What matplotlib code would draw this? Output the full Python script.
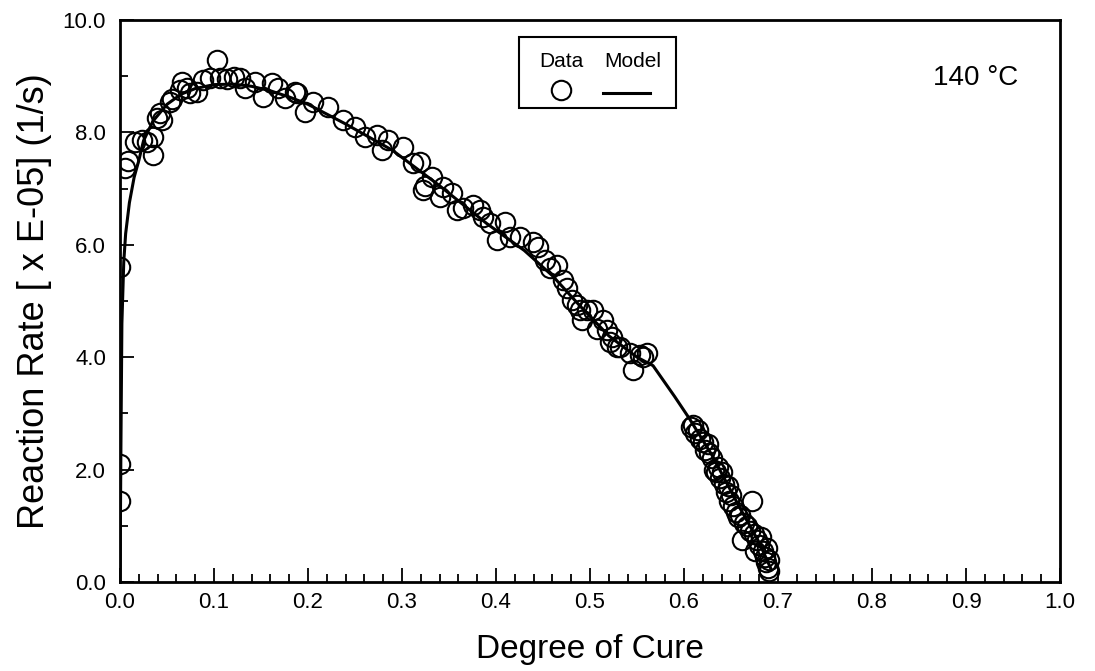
"""
Reaction rate vs degree of cure at 140 C: measured data (open circles)
and model curve (solid line).

Output: out.png
"""

import matplotlib
matplotlib.use("Agg")
import matplotlib.pyplot as plt
from matplotlib.patches import Rectangle
from matplotlib.ticker import MultipleLocator, FormatStrFormatter

plt.rcParams["font.family"] = ["Liberation Sans", "DejaVu Sans"]

OUT_FIG = "out.png"

# --- Data ---
# degree of cure (alpha) for the measured points
data_alpha = [
    0.0, 0.0, 0.0, 0.005, 0.009, 0.016, 0.023, 0.029, 0.035, 0.035,
    0.039, 0.043, 0.045, 0.053, 0.055, 0.064, 0.066, 0.071, 0.074, 0.082,
    0.088, 0.096, 0.103, 0.106, 0.114, 0.121, 0.128, 0.133, 0.144, 0.152,
    0.162, 0.168, 0.176, 0.186, 0.188, 0.197, 0.205, 0.221, 0.237, 0.25,
    0.261, 0.273, 0.279, 0.285, 0.301, 0.312, 0.319, 0.322, 0.324, 0.332,
    0.34, 0.344, 0.353, 0.358, 0.365, 0.376, 0.383, 0.386, 0.394, 0.401,
    0.41, 0.415, 0.426, 0.439, 0.445, 0.452, 0.457, 0.465, 0.471, 0.476,
    0.481, 0.486, 0.489, 0.491, 0.497, 0.503, 0.507, 0.514, 0.518, 0.521,
    0.523, 0.529, 0.532, 0.543, 0.546, 0.553, 0.556, 0.561,
    0.607, 0.610, 0.612, 0.615, 0.617, 0.620, 0.622, 0.625, 0.627, 0.630,
    0.632, 0.634, 0.636, 0.638, 0.640, 0.642, 0.645, 0.647, 0.648, 0.650,
    0.652, 0.655, 0.657, 0.660, 0.662, 0.664, 0.667, 0.670, 0.672, 0.674,
    0.676, 0.678, 0.680, 0.682, 0.684, 0.686, 0.687, 0.688, 0.689, 0.690,
    0.690,
]
# reaction rate [x 1e-5 1/s] for the measured points
data_rate = [
    5.6, 2.1, 1.45, 7.37, 7.5, 7.83, 7.86, 7.83, 7.6, 7.92,
    8.26, 8.34, 8.22, 8.54, 8.6, 8.75, 8.9, 8.79, 8.7, 8.72,
    8.93, 8.97, 9.28, 8.97, 8.95, 8.99, 8.97, 8.79, 8.9, 8.63,
    8.88, 8.79, 8.61, 8.72, 8.7, 8.36, 8.54, 8.45, 8.22, 8.1,
    7.92, 7.95, 7.69, 7.87, 7.74, 7.45, 7.47, 6.97, 7.05, 7.21,
    6.85, 7.03, 6.92, 6.62, 6.65, 6.71, 6.62, 6.5, 6.39, 6.09,
    6.41, 6.14, 6.14, 6.05, 5.96, 5.73, 5.59, 5.64, 5.37, 5.23,
    5.02, 4.93, 4.84, 4.66, 4.84, 4.84, 4.5, 4.66, 4.48, 4.27,
    4.36, 4.18, 4.18, 4.07, 3.77, 4.04, 4.0, 4.07,
    2.75, 2.8, 2.65, 2.7, 2.55, 2.5, 2.35, 2.45, 2.3, 2.2,
    2.0, 1.95, 2.05, 1.85, 1.95, 1.75, 1.6, 1.7, 1.45, 1.55,
    1.35, 1.25, 1.15, 1.2, 0.75, 1.05, 1.0, 0.9, 1.45, 0.85,
    0.55, 0.75, 0.65, 0.8, 0.55, 0.45, 0.35, 0.6, 0.25, 0.4,
    0.2,
]

# model curve
model_alpha = [
    0.0, 0.001, 0.002, 0.004, 0.006, 0.01, 0.015, 0.02, 0.025, 0.035,
    0.05, 0.065, 0.08, 0.1, 0.12, 0.14, 0.16, 0.18, 0.2, 0.24,
    0.29, 0.34, 0.39, 0.43, 0.46, 0.49, 0.52, 0.55, 0.567, 0.59,
    0.606, 0.63, 0.66, 0.68, 0.692,
]
model_rate = [
    0.0, 2.5, 4.6, 5.7, 6.2, 6.75, 7.2, 7.5, 7.85, 8.2,
    8.5, 8.68, 8.78, 8.85, 8.86, 8.82, 8.74, 8.63, 8.5, 8.15,
    7.68, 7.05, 6.38, 5.9, 5.45, 4.9, 4.38, 4.0, 3.85, 3.3,
    2.9, 2.25, 1.3, 0.7, 0.25,
]

legend_labels = ["Data", "Model"]
temp_label = "140 \u00b0C"

# --- Figure ---
fig = plt.figure(figsize=(10.95, 6.71), dpi=100)
ax = fig.add_axes([0.1096, 0.1326, 0.8585, 0.8376])

ax.plot(model_alpha, model_rate, color="black", lw=2.2, zorder=2)
ax.plot(data_alpha, data_rate, ls="none", marker="o", ms=14, mfc="none",
        mec="black", mew=1.5, zorder=3)

ax.set_xlim(0, 1.0)
ax.set_ylim(0, 10.0)
ax.xaxis.set_major_locator(MultipleLocator(0.1))
ax.xaxis.set_minor_locator(MultipleLocator(0.02))
ax.yaxis.set_major_locator(MultipleLocator(2.0))
ax.yaxis.set_minor_locator(MultipleLocator(1.0))
ax.xaxis.set_major_formatter(FormatStrFormatter("%.1f"))
ax.yaxis.set_major_formatter(FormatStrFormatter("%.1f"))
ax.tick_params(which="both", direction="in", width=1.3, labelsize=16)
ax.tick_params(which="major", length=10)
ax.tick_params(which="minor", length=6)
ax.tick_params(axis="x", pad=7)
ax.tick_params(axis="y", pad=10)
for sp in ax.spines.values():
    sp.set_linewidth(2)

ax.set_xlabel("Degree of Cure", fontsize=24, labelpad=15)
ax.set_ylabel("Reaction Rate [ x E-05] (1/s)", fontsize=26, labelpad=8)

# hand-made legend box (labels above the symbols, like the original)
ax.add_patch(Rectangle((0.424, 0.843), 0.167, 0.127, transform=ax.transAxes,
                       fill=False, lw=1.5, ec="black", zorder=4))
ax.text(0.469, 0.926, legend_labels[0], transform=ax.transAxes,
        ha="center", va="center", fontsize=15)
ax.text(0.545, 0.926, legend_labels[1], transform=ax.transAxes,
        ha="center", va="center", fontsize=15)
ax.plot([0.469], [0.875], transform=ax.transAxes, marker="o", ms=14,
        mfc="none", mec="black", mew=1.5, clip_on=False)
ax.plot([0.514, 0.564], [0.870, 0.870], transform=ax.transAxes,
        color="black", lw=2.2, clip_on=False)

ax.text(0.91, 0.897, temp_label, transform=ax.transAxes,
        ha="center", va="center", fontsize=20)

plt.savefig(OUT_FIG, dpi=100)
